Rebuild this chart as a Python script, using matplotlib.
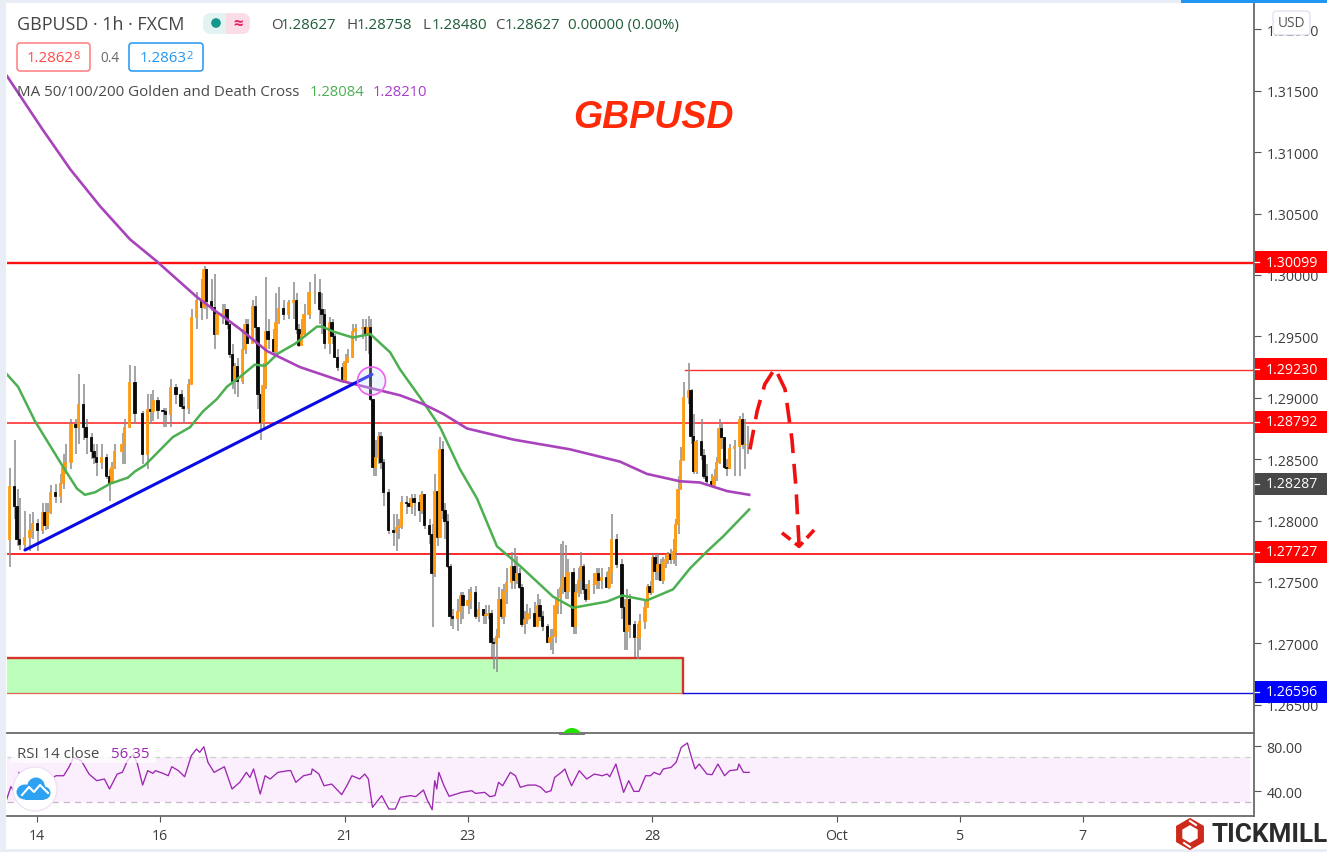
import matplotlib
matplotlib.use("Agg")
import matplotlib.pyplot as plt
from matplotlib.patches import Rectangle, Circle, FancyBboxPatch, Ellipse, RegularPolygon

FONT = "Open Sans"
plt.rcParams["font.family"] = [FONT, "DejaVu Sans"]

open_first = 1.2785
hours = [-11,-9,-8,-7,-5,-3,-2,0,2,3,4,5,7,9,10,11,13,15,16,18,19,21,22,23,25,27,28,29,30,33,34,36,38,41,43,44,45,47,49,50,52,54,56,57,59,60,62,64,65,66,68,69,70,72,73,74,75,76,77,78,80,81,82,84,85,86,87,88,89,90,92,93,94,96,98,100,101,102,103,104,106,108,110,111,112,114,115,116,117,119,120,121,123,124,127,128,129,130,131,132,133,134,135,137,139,140,141,142,144,145,146,147,149,150,151,153,154,155,156,157,158,159,160,161,162,164,165,166,168,169,171,172,174,175,176,177,178,179,180,181,182,183,185,186,187,188,189,190,191,192,194,195,196,197,199,200,201,202,203,204,205,206,207,209,210,211,212,213,214,215,217,218,219,220,222,223,224,226,228,229,230,231,233,234,235,237,238,239,240,241,242,243,244,245,246,247,248,249,250,251,252,254,255,256,257,259,260,261,263,264,265,266,267,268,269,270,272,274,275,276,277]
closes = [1.2828,1.2812,1.2785,1.2781,1.2787,1.2792,1.2798,1.2792,1.2807,1.2796,1.2807,1.2823,1.2820,1.2831,1.2844,1.2848,1.2879,1.2876,1.2895,1.2876,1.2868,1.2857,1.2852,1.2848,1.2852,1.2836,1.2831,1.2844,1.2857,1.2862,1.2876,1.2913,1.2888,1.2854,1.2891,1.2889,1.2898,1.2890,1.2889,1.2887,1.2909,1.2903,1.2893,1.2892,1.2911,1.2966,1.2980,1.2974,1.3005,1.2979,1.2974,1.2952,1.2968,1.2969,1.2972,1.2960,1.2936,1.2914,1.2926,1.2914,1.2940,1.2960,1.2945,1.2975,1.2958,1.2903,1.2880,1.2910,1.2954,1.2948,1.2938,1.2962,1.2973,1.2968,1.2978,1.2980,1.2956,1.2943,1.2952,1.2968,1.2986,1.2986,1.2972,1.2968,1.2945,1.2962,1.2950,1.2933,1.2925,1.2914,1.2930,1.2933,1.2954,1.2957,1.2958,1.2951,1.2958,1.2899,1.2844,1.2852,1.2869,1.2848,1.2823,1.2792,1.2791,1.2795,1.2796,1.2815,1.2814,1.2812,1.2818,1.2815,1.2809,1.2822,1.2796,1.2789,1.2757,1.2824,1.2787,1.2858,1.2809,1.2800,1.2763,1.2722,1.2721,1.2726,1.2739,1.2731,1.2735,1.2742,1.2722,1.2728,1.2723,1.2724,1.2725,1.2701,1.2700,1.2706,1.2736,1.2722,1.2743,1.2750,1.2763,1.2752,1.2757,1.2746,1.2716,1.2720,1.2725,1.2725,1.2714,1.2731,1.2722,1.2714,1.2701,1.2705,1.2706,1.2731,1.2738,1.2746,1.2754,1.2743,1.2758,1.2714,1.2742,1.2752,1.2763,1.2744,1.2736,1.2748,1.2748,1.2757,1.2752,1.2754,1.2746,1.2759,1.2785,1.2765,1.2730,1.2710,1.2736,1.2716,1.2705,1.2705,1.2718,1.2730,1.2747,1.2742,1.2770,1.2759,1.2765,1.2752,1.2766,1.2769,1.2773,1.2769,1.2775,1.2797,1.2826,1.2849,1.2901,1.2906,1.2869,1.2840,1.2865,1.2853,1.2836,1.2832,1.2829,1.2836,1.2848,1.2875,1.2868,1.2844,1.2843,1.2859,1.2861,1.2883,1.2862,1.2862,1.2862]
highs = [1.2843,1.2866,1.2826,1.2818,1.2808,1.2805,1.2807,1.2801,1.2814,1.2814,1.2814,1.2829,1.2830,1.2838,1.2854,1.2862,1.2883,1.2883,1.2919,1.2911,1.2883,1.2871,1.2862,1.2862,1.2862,1.2854,1.2842,1.2848,1.2862,1.2871,1.2883,1.2927,1.2926,1.2889,1.2903,1.2903,1.2906,1.2901,1.2892,1.2892,1.2915,1.2911,1.2906,1.2901,1.2915,1.2972,1.2986,1.2997,1.3007,1.3005,1.2997,1.3001,1.2971,1.2976,1.2976,1.2972,1.2960,1.2944,1.2928,1.2932,1.2956,1.2964,1.2964,1.2980,1.2983,1.2956,1.2903,1.2928,1.2998,1.2964,1.2956,1.2985,1.2990,1.2980,1.2980,1.2994,1.2985,1.2960,1.2964,1.2976,1.2994,1.3001,1.2997,1.2985,1.2972,1.2966,1.2964,1.2952,1.2940,1.2928,1.2936,1.2940,1.2960,1.2960,1.2964,1.2964,1.2967,1.2964,1.2899,1.2866,1.2872,1.2872,1.2850,1.2826,1.2805,1.2805,1.2801,1.2820,1.2820,1.2818,1.2822,1.2822,1.2821,1.2824,1.2822,1.2801,1.2797,1.2838,1.2824,1.2868,1.2865,1.2814,1.2805,1.2765,1.2728,1.2736,1.2742,1.2742,1.2744,1.2746,1.2747,1.2734,1.2728,1.2731,1.2731,1.2727,1.2704,1.2712,1.2746,1.2744,1.2748,1.2761,1.2774,1.2778,1.2771,1.2761,1.2748,1.2726,1.2732,1.2729,1.2734,1.2740,1.2736,1.2726,1.2716,1.2712,1.2712,1.2736,1.2744,1.2781,1.2783,1.2780,1.2769,1.2761,1.2748,1.2761,1.2774,1.2765,1.2748,1.2752,1.2757,1.2761,1.2761,1.2761,1.2758,1.2762,1.2805,1.2789,1.2769,1.2736,1.2744,1.2740,1.2718,1.2716,1.2724,1.2736,1.2748,1.2751,1.2773,1.2773,1.2773,1.2769,1.2770,1.2773,1.2774,1.2777,1.2785,1.2801,1.2836,1.2860,1.2913,1.2928,1.2907,1.2887,1.2866,1.2883,1.2858,1.2846,1.2838,1.2842,1.2852,1.2883,1.2879,1.2868,1.2850,1.2862,1.2866,1.2885,1.2888,1.2883,1.2877]
lows = [1.2762,1.2801,1.2779,1.2776,1.2775,1.2775,1.2785,1.2775,1.2789,1.2792,1.2793,1.2805,1.2814,1.2814,1.2826,1.2838,1.2842,1.2854,1.2862,1.2866,1.2854,1.2850,1.2846,1.2836,1.2842,1.2834,1.2816,1.2830,1.2842,1.2846,1.2846,1.2875,1.2879,1.2846,1.2842,1.2879,1.2881,1.2883,1.2876,1.2876,1.2876,1.2895,1.2891,1.2879,1.2887,1.2911,1.2956,1.2963,1.2972,1.2964,1.2971,1.2940,1.2952,1.2960,1.2964,1.2956,1.2932,1.2907,1.2903,1.2901,1.2911,1.2936,1.2944,1.2945,1.2944,1.2891,1.2866,1.2875,1.2907,1.2940,1.2936,1.2936,1.2960,1.2963,1.2964,1.2964,1.2952,1.2941,1.2948,1.2952,1.2964,1.2976,1.2960,1.2952,1.2940,1.2936,1.2944,1.2932,1.2922,1.2912,1.2912,1.2928,1.2932,1.2946,1.2948,1.2938,1.2936,1.2897,1.2836,1.2836,1.2846,1.2842,1.2812,1.2789,1.2779,1.2775,1.2785,1.2793,1.2805,1.2811,1.2805,1.2804,1.2799,1.2805,1.2793,1.2781,1.2713,1.2754,1.2779,1.2787,1.2801,1.2785,1.2761,1.2714,1.2712,1.2710,1.2716,1.2720,1.2724,1.2728,1.2720,1.2717,1.2716,1.2716,1.2720,1.2689,1.2679,1.2677,1.2704,1.2720,1.2716,1.2732,1.2744,1.2744,1.2748,1.2744,1.2713,1.2708,1.2716,1.2720,1.2713,1.2716,1.2718,1.2710,1.2700,1.2695,1.2691,1.2700,1.2724,1.2724,1.2740,1.2736,1.2736,1.2708,1.2708,1.2738,1.2740,1.2740,1.2734,1.2736,1.2740,1.2744,1.2744,1.2744,1.2745,1.2744,1.2748,1.2761,1.2720,1.2695,1.2695,1.2704,1.2689,1.2687,1.2695,1.2712,1.2730,1.2739,1.2744,1.2752,1.2752,1.2751,1.2748,1.2761,1.2765,1.2765,1.2765,1.2763,1.2789,1.2826,1.2849,1.2895,1.2862,1.2838,1.2838,1.2849,1.2834,1.2830,1.2827,1.2830,1.2832,1.2846,1.2858,1.2842,1.2836,1.2842,1.2836,1.2836,1.2858,1.2842,1.2854]

ma_green_h = [-11.7,-7.4,-0.8,9.8,15.6,18.7,22.6,28.5,35.5,38.2,42.1,53,59.7,64.8,70.2,74.1,79.2,85,89,94,100.7,109.3,111.2,115.5,123.3,130,137.8,141.7,150.6,157.3,165,171.7,179.5,188.5,201.4,209.2,222.4,228.3,238,248.2,254.8,261.5,267.7,277.9]
ma_green = [1.2919,1.2909,1.2881,1.2845,1.2826,1.2821,1.2823,1.2830,1.2835,1.2840,1.2845,1.2868,1.2876,1.2889,1.2899,1.2909,1.2917,1.2927,1.2926,1.2936,1.2944,1.2958,1.2958,1.2954,1.2949,1.2952,1.2937,1.2923,1.2897,1.2876,1.2842,1.2818,1.2779,1.2763,1.2738,1.2729,1.2734,1.2739,1.2735,1.2744,1.2761,1.2775,1.2787,1.2809]
ma_purple_h = [-11.7,-4.7,2,13,24.6,36.3,46.8,62.4,67.5,79.2,89.8,102.6,118.2,126,141.7,150.6,158.4,167.8,185.8,208,227.5,238,250.9,258.7,269.3,277.9]
ma_purple = [1.3162,1.3140,1.3119,1.3086,1.3056,1.3029,1.3011,1.2982,1.2974,1.2956,1.2938,1.2925,1.2914,1.2910,1.2902,1.2895,1.2887,1.2875,1.2866,1.2858,1.2848,1.2838,1.2832,1.2831,1.2824,1.2821]

rsi_h = [-11.8,-10.2,-8.6,-7,-2.6,5.4,7.4,10.4,12.4,14.3,17.3,20.3,23.3,26.3,28.3,31.3,33.3,35.3,37.6,39.2,41.2,43.2,45.2,46.2,49.2,51.2,52.6,55.2,57.6,60.2,62.2,63.5,65.1,66.7,69.1,73.1,76.1,79.1,81.7,83.1,84.5,87.1,89,91,94,98,99,101,104,107,107.4,110,112,115,118.9,120.9,122.9,125.9,127.9,129.3,130.9,134.5,137.3,139.8,141.8,145.8,147.8,150.8,152.4,154.2,155.2,156,156.8,158.8,160.8,165.7,169.7,171.1,174.7,176.7,178.7,180.1,181.7,184.7,186.7,188.6,191.6,194.6,196.6,198.6,200.6,202,204.6,206,207.2,208.6,211.6,214.5,217.5,220.5,222.5,223.5,225.9,228.9,230.9,232.9,234.9,237.5,239.4,240.8,243,244.4,247.4,249.4,251.4,253.8,255.4,256.8,258.4,261.4,263.4,265.7,268.3,270.3,273.3,273.9,275.7,277.9]
rsi = [32.9,43.9,38.8,56.6,50.7,50.7,53.6,53.6,61,69.9,67,55.1,49.2,50.7,41.8,55.1,56.6,67,72.9,64,45.3,58.1,55.7,58.1,55.7,53.6,61.6,58.1,52.7,71.4,77.3,74.4,79.4,65.5,56.6,61.6,41.8,47.7,56.6,52.1,59.6,37.3,53.6,50.7,56.6,58.1,58.1,47.7,53.6,55.1,59.6,55.1,44.7,46.2,36.8,44.7,53.6,50.7,55.1,50.7,25.5,35.9,24,24,34.4,35.9,35,40.9,31.4,23.4,49.2,41.8,56.6,44.7,35.3,38.8,40.3,37.9,38.8,35,35.9,47.7,44.7,56.6,53.6,43.3,45.3,45.3,43.3,38.8,40.3,52.1,56.6,59.6,52.1,44.7,58.1,50.7,55.1,53.6,55.1,52.7,64,38.8,49.2,39.7,39.7,53.6,53.6,56.6,54.5,59.6,61,65.5,78.8,82.7,69.9,59.6,64,55.1,54.5,64,53.6,58.1,59,64,56.6,56.6]

levels_red = [1.30099, 1.29230, 1.28792, 1.27727]
level_blue = 1.26596
trend_h = [-4.7, 130.7]
trend_p = [1.2776, 1.2919]
forecast_h = [278.2,281,284,288,291.9,294.6,296.2,297.4]
forecast_p = [1.2858,1.2889,1.2911,1.2924,1.2907,1.2866,1.2826,1.2779]
head_h = [290.7,297.4,304.4]
head_p = [1.2790,1.2779,1.2795]
zone_h = [-11.7, 252.2]
zone_p = [1.26596, 1.26880]
price_ticks = [1.265,1.27,1.275,1.28,1.285,1.29,1.295,1.30,1.305,1.31,1.315,1.32]
rsi_ticks = [40, 80]
time_ticks = [0,48,120,168,240,312,360,408]
time_labels = ["14","16","21","23","28","Oct","5","7"]

W, H = 1327, 853
fig = plt.figure(figsize=(W/100, H/100), dpi=100, facecolor="white")
def box(x0, y0, x1, y1):
    return [x0/W, (H-y1)/H, (x1-x0)/W, (y1-y0)/H]

ax = fig.add_axes(box(7, 4, 1254, 734))
axr = fig.add_axes(box(7, 735, 1254, 817))
XL = (-11.71, 474.9)
ax.set_xlim(*XL); axr.set_xlim(*XL)
ax.set_ylim(1.26270, 1.32215)
axr.set_ylim(17.8, 90.7)

# zone
ax.add_patch(Rectangle((zone_h[0], zone_p[0]), zone_h[1]-zone_h[0], zone_p[1]-zone_p[0],
                       fc="#bbffbb", ec="none", zorder=1))
ax.plot([zone_h[0], zone_h[1], zone_h[1]], [zone_p[1], zone_p[1], zone_p[0]], color="#d8322a", lw=1.7, zorder=1.5)
ax.plot(zone_h, [zone_p[0], zone_p[0]], color="#e06050", lw=0.9, zorder=1.5)

# levels
ax.plot(XL, [levels_red[0]]*2, color="#ff1010", lw=1.7, zorder=2)
ax.plot([253, XL[1]], [levels_red[1]]*2, color="#ff3030", lw=1.0, zorder=2)
ax.plot(XL, [levels_red[2]]*2, color="#ff3030", lw=1.2, zorder=2)
ax.plot(XL, [levels_red[3]]*2, color="#ff1818", lw=1.3, zorder=2)
ax.plot([252.2, XL[1]], [level_blue]*2, color="#1010e0", lw=1.0, zorder=2)

# candles
opens = [open_first] + closes[:-1]
colors = ["#ff9c12" if c >= o else "#0a0a0a" for o, c in zip(opens, closes)]
ax.vlines([h+0.4 for h in hours], lows, highs, color="#8c8c8c", lw=1.1, zorder=3)
ax.bar(hours, [abs(c-o) for o, c in zip(opens, closes)],
       bottom=[min(o, c) for o, c in zip(opens, closes)],
       width=0.95, color=colors, edgecolor=colors, linewidth=0.6, zorder=4)

# MAs, trend line, forecast
ax.plot(ma_green_h, ma_green, color="#4caf50", lw=1.8, zorder=5)
ax.plot(ma_purple_h, ma_purple, color="#a843bb", lw=1.9, zorder=5)
ax.plot(trend_h, trend_p, color="#0a0ae6", lw=2.2, zorder=6, solid_capstyle="round")
ax.plot(forecast_h, forecast_p, color="#f01010", lw=2.6, ls=(0, (5.5, 3)), zorder=6)
ax.plot(head_h, head_p, color="#f01010", lw=2.6, ls=(0, (3, 1.6)), zorder=6)

# price axis
ax.set_yticks(price_ticks)
ax.set_yticklabels([f"{p:.5f}" for p in price_ticks])
ax.set_xticks([])
axr.set_yticks(rsi_ticks)
axr.set_yticklabels([f"{v:.2f}" for v in rsi_ticks])
for a in (ax, axr):
    a.yaxis.tick_right()
    a.tick_params(axis="y", length=5, width=0.8, color="#555555", labelcolor="#3c3c3c", labelsize=10.2, pad=4)
    for s in ("left", "top"):
        a.spines[s].set_visible(False)
    a.spines["right"].set_color("#6a6a6a")
    a.spines["right"].set_linewidth(1.3)
ax.spines["bottom"].set_color("#6a6a6a"); ax.spines["bottom"].set_linewidth(1.3)
axr.spines["bottom"].set_color("#6a6a6a"); axr.spines["bottom"].set_linewidth(1.3)

# RSI
axr.axhspan(30, 70, xmin=0, xmax=0.997, color="#fbeefd", zorder=1, lw=0)
for v in (70, 30):
    axr.plot(XL, [v, v], color="#c9b4cc" if v == 30 else "#cfcfcf", lw=0.9, ls=(0, (5, 4)), zorder=2)
axr.plot(rsi_h, rsi, color="#9c27b0", lw=0.95, zorder=3)
axr.set_xticks(time_ticks)
axr.set_xticklabels(time_labels)
axr.tick_params(axis="x", length=4, width=0.8, color="#555555", labelcolor="#3c3c3c", labelsize=10.2, pad=5)

# overlay for chrome
ov = fig.add_axes([0, 0, 1, 1], zorder=10)
ov.set_xlim(0, W); ov.set_ylim(H, 0); ov.axis("off"); ov.patch.set_alpha(0)

def T(x, y, s, color="#4a4a4a", size=10.2, ha="left", **kw):
    kw.setdefault("va", "center")
    ov.text(x, y, s, color=color, fontsize=size, ha=ha, **kw)

# page frame
ov.add_patch(Rectangle((0, 0), 5.5, H, fc="#e8edf6", ec="none"))
ov.add_patch(Rectangle((0, 0), W, 3.5, fc="#e8edf6", ec="none"))
ov.add_patch(Rectangle((1181, 0), 146, 3.5, fc="#2196f3", ec="none"))
ov.add_patch(Rectangle((0, 850), W, 3, fc="#e8edf6", ec="none"))

# header
T(17, 25, "GBPUSD · 1h · FXCM", size=12.9, color="#444444")
ov.add_patch(FancyBboxPatch((203, 14), 24, 21, boxstyle="round,pad=0,rounding_size=8", fc="#e2f3f1", ec="none"))
ov.add_patch(FancyBboxPatch((226, 14), 24, 21, boxstyle="round,pad=0,rounding_size=8", fc="#fbdde7", ec="none"))
ov.add_patch(Rectangle((218, 14), 8, 21, fc="#e2f3f1", ec="none"))
ov.add_patch(Rectangle((226, 14), 8, 21, fc="#fbdde7", ec="none"))
ov.add_patch(Circle((216, 24), 4.8, fc="#12988a", ec="none"))
T(238, 24, "≈", color="#e91e63", size=12, ha="center", fontweight="bold")
green_txt = "#1d5c38"
for x, lab, val in [(271, "O", "1.28627"), (347, "H", "1.28758"), (422, "L", "1.28480"), (495, "C", "1.28627")]:
    T(x, 25, lab, color="#4a4a4a", size=10.8)
    T(x + 10, 25, val, color=green_txt, size=10.8)
T(568, 25, "0.00000 (0.00%)", color=green_txt, size=10.8)
ov.add_patch(FancyBboxPatch((17, 44), 73, 28, boxstyle="round,pad=0,rounding_size=3", fc="white", ec="#ff7c7c", lw=1.1))
T(27, 58, "1.2862", color="#ff4a4a", size=10.8)
T(73, 56, "8", color="#ff4a4a", size=8)
T(100, 58, "0.4", color="#666666", size=9.8)
ov.add_patch(FancyBboxPatch((129, 44), 74, 28, boxstyle="round,pad=0,rounding_size=3", fc="white", ec="#2196f3", lw=1.1))
T(140, 58, "1.2863", color="#2196f3", size=10.8)
T(186, 56, "2", color="#2196f3", size=8)
T(17, 92, "MA 50/100/200 Golden and Death Cross", size=10.9, color="#4a4a4a")
T(310, 92, "1.28084", color="#4caf50", size=10.6)
T(373, 92, "1.28210", color="#a83cc8", size=10.6)
T(653, 118, "GBPUSD", color="#ff2a08", size=27, ha="center", family="Liberation Sans", fontweight="bold", fontstyle="italic")

# price labels
for y, s, c in [(263, "1.30099", "#ff0000"), (370, "1.29230", "#ff0000"), (423, "1.28792", "#ff0000"),
                (485, "1.28287", "#484848"), (553, "1.27727", "#ff0000"), (693, "1.26596", "#0000ff")]:
    ov.add_patch(Rectangle((1255, y-11), 72, 22, fc=c, ec="none"))
    ov.plot([1255, 1259], [y, y], color="white", lw=0.9)
    T(1266, y, s, color="white", size=10.2)

ov.add_patch(FancyBboxPatch((1273, 12), 37, 24, boxstyle="round,pad=0,rounding_size=4", fc="white", ec="#dfe3ee", lw=1))
T(1291.5, 23, "USD", size=9.8, ha="center", color="#555555")

# pink circle, green dot
ov.add_patch(Circle((371.5, 382), 14, fc=(0.80, 0.88, 1.0, 0.3), ec="#f060f0", lw=1.2, zorder=0.5))
ov.add_patch(Circle((572, 739), 10, fc="#22e000", ec="none", zorder=0.6))
ov.add_patch(Rectangle((560, 734), 24, 16, fc="white", ec="none", zorder=0.7))
ov.plot([560, 584], [734.5, 734.5], color="#6a6a6a", lw=1.3, zorder=0.8)

# RSI legend and badge
ov.add_patch(Rectangle((11, 745), 145, 19, fc="white", ec="none", alpha=0.75))
T(17, 755, "RSI 14 close", size=10.8, color="#4a4a4a")
T(111, 755, "56.35", size=10.8, color="#9c27b0")
ov.add_patch(Circle((35, 790), 22, fc="white", ec="#efe3f3", lw=1))
ov.add_patch(Ellipse((25, 793), 17, 15, fc="#2ea2f2", ec="none"))
ov.add_patch(Ellipse((36, 788), 18, 19, fc="#2ea2f2", ec="none"))
ov.add_patch(Ellipse((44, 794), 13, 13, fc="#2ea2f2", ec="none"))
ov.add_patch(Rectangle((25, 792), 19, 9, fc="#2ea2f2", ec="none"))
ov.plot([22, 29, 34, 40, 48], [796, 788, 793, 786, 794], color="white", lw=1.5)

# logo
ov.add_patch(RegularPolygon((1190, 835), 6, radius=12.5, fill=False, ec="#cd2a1c", lw=4.5))
ov.plot([1190, 1196], [822, 826], color="white", lw=1.5)
ov.plot([1190, 1184], [848, 844], color="white", lw=1.5)
T(1211, 835, "TICKMILL", color="#2b2b2b", size=18.8, family="Roboto", fontweight="bold")

fig.savefig("out.png", dpi=100)
